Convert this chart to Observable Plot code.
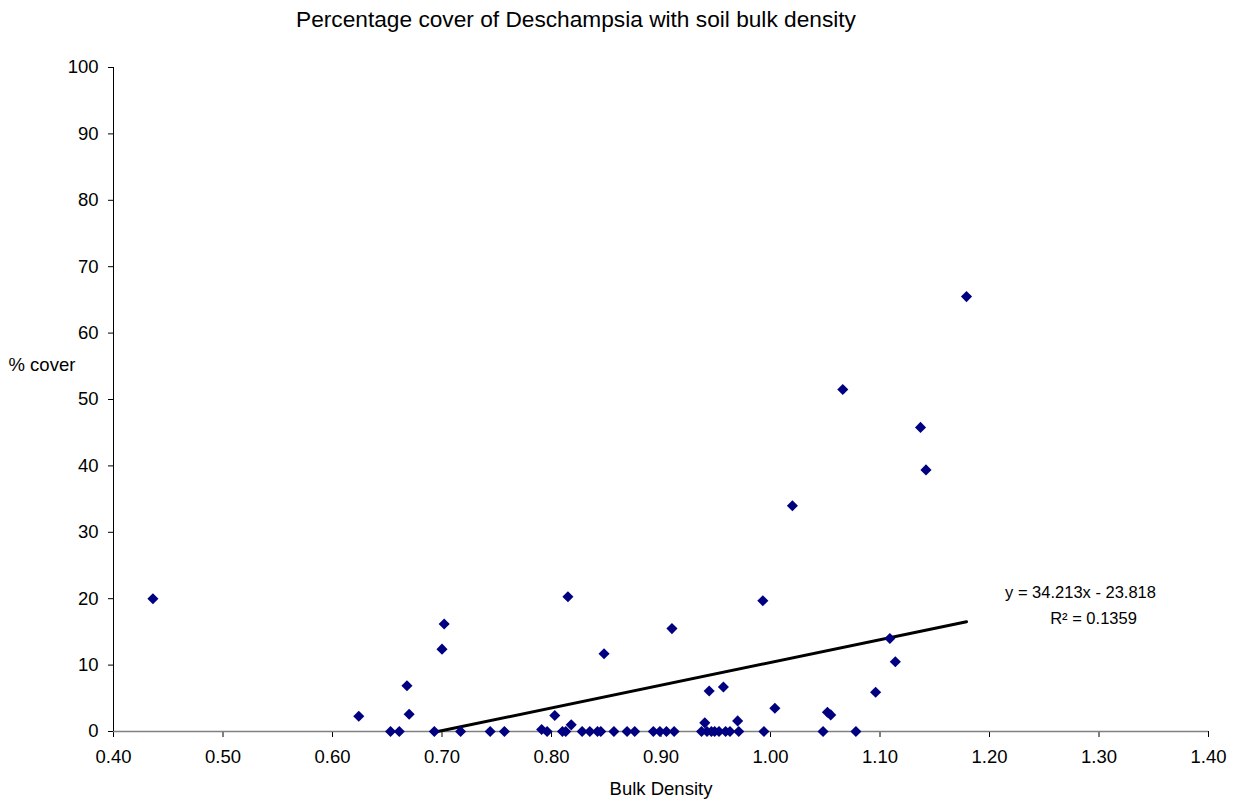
<!DOCTYPE html>
<html>
<head>
<meta charset="utf-8">
<script src="https://cdn.jsdelivr.net/npm/d3@7"></script>
<script src="https://cdn.jsdelivr.net/npm/@observablehq/plot@0.6"></script>
<style>
  html, body { margin: 0; padding: 0; background: #fff; }
  #wrap { position: relative; width: 1239px; height: 804px; font-family: "Liberation Sans", Arial, sans-serif; }
  #title { position: absolute; left: 0; top: 6px; width: 1152px; text-align: center; font-size: 22.7px; color: #000; z-index: 1; }
</style>
</head>
<body>
<div id="wrap">
  <div id="title">Percentage cover of Deschampsia with soil bulk density</div>
  <div id="chart"></div>
</div>
<script>
// Soil bulk density (g/cm³) of each quadrat
const bulkDensity = [
  0.436, 0.624, 0.653, 0.661, 0.668, 0.670, 0.693, 0.702, 0.700, 0.717,
  0.744, 0.757, 0.791, 0.796, 0.803, 0.810, 0.813, 0.815, 0.818, 0.828,
  0.835, 0.842, 0.845, 0.848, 0.857, 0.869, 0.876, 0.893, 0.899, 0.905,
  0.910, 0.912, 0.937, 0.940, 0.942, 0.944, 0.946, 0.949, 0.953, 0.957,
  0.959, 0.963, 0.970, 0.971, 0.993, 0.994, 1.004, 1.020, 1.048, 1.052,
  1.055, 1.066, 1.078, 1.096, 1.109, 1.114, 1.137, 1.142, 1.179
];
// Percentage cover of Deschampsia in the same quadrats
const cover = [
  20.0, 2.3, 0, 0, 6.9, 2.6, 0, 16.2, 12.4, 0,
  0, 0, 0.3, 0, 2.4, 0, 0, 20.3, 1.0, 0,
  0, 0, 0, 11.7, 0, 0, 0, 0, 0, 0,
  15.5, 0, 0, 1.3, 0, 6.1, 0, 0, 0, 6.7,
  0, 0, 1.6, 0, 19.7, 0, 3.5, 34.0, 0, 2.9,
  2.5, 51.5, 0, 5.9, 14.0, 10.5, 45.8, 39.4, 65.5
];
// Linear trendline fitted to the data
const slope = 34.213;
const intercept = -23.818;
const rSquared = 0.1359;

const xTicks = [0.4, 0.5, 0.6, 0.7, 0.8, 0.9, 1.0, 1.1, 1.2, 1.3, 1.4];
const yTicks = [0, 10, 20, 30, 40, 50, 60, 70, 80, 90, 100];

const points = bulkDensity.map((x, i) => ({x, y: cover[i]}));
// Trendline runs from where it crosses zero cover to the densest sample
const xStart = -intercept / slope;
const xEnd = d3.max(bulkDensity);
const trend = [xStart, xEnd].map(x => ({x, y: slope * x + intercept}));

const equationText = `y = ${slope}x - ${Math.abs(intercept)}`;
const rSquaredText = `R² = ${rSquared}`;

const font = "'Liberation Sans', Arial, sans-serif";

const chart = Plot.plot({
  width: 1239,
  height: 804,
  marginLeft: 113,
  marginRight: 31,
  marginTop: 67,
  marginBottom: 73,
  style: {fontFamily: font, fontSize: "18.5px", color: "#000", background: "#fff"},
  x: {domain: [0.4, 1.4]},
  y: {domain: [0, 100]},
  marks: [
    Plot.axisX({ticks: xTicks, tickFormat: d3.format(".2f"), tickSize: 6, tickPadding: 12, label: null, fontSize: 18.5}),
    Plot.axisY({ticks: yTicks, tickSize: 5, tickPadding: 10, label: null, fontSize: 18.5}),
    Plot.ruleY([0], {stroke: "#808080", strokeWidth: 1.5}),
    Plot.ruleX([0.4], {stroke: "#000", strokeWidth: 1}),
    Plot.line(trend, {x: "x", y: "y", stroke: "#000", strokeWidth: 3}),
    Plot.dot(points, {x: "x", y: "y", symbol: "diamond2", r: 5, fill: "#000080", stroke: "none"}),
    Plot.text([equationText], {frameAnchor: "bottom-right", dx: -128, dy: -134, fontSize: 16.5, textAnchor: "middle"}),
    Plot.text([rSquaredText], {frameAnchor: "bottom-right", dx: -115, dy: -108, fontSize: 16.5, textAnchor: "middle"}),
    Plot.text(["% cover"], {frameAnchor: "left", dx: -105, dy: -34, textAnchor: "start", fontSize: 18.5}),
    Plot.text(["Bulk Density"], {frameAnchor: "bottom", dy: 63, fontSize: 18.5})
  ]
});
document.getElementById("chart").appendChild(chart);
</script>
</body>
</html>
